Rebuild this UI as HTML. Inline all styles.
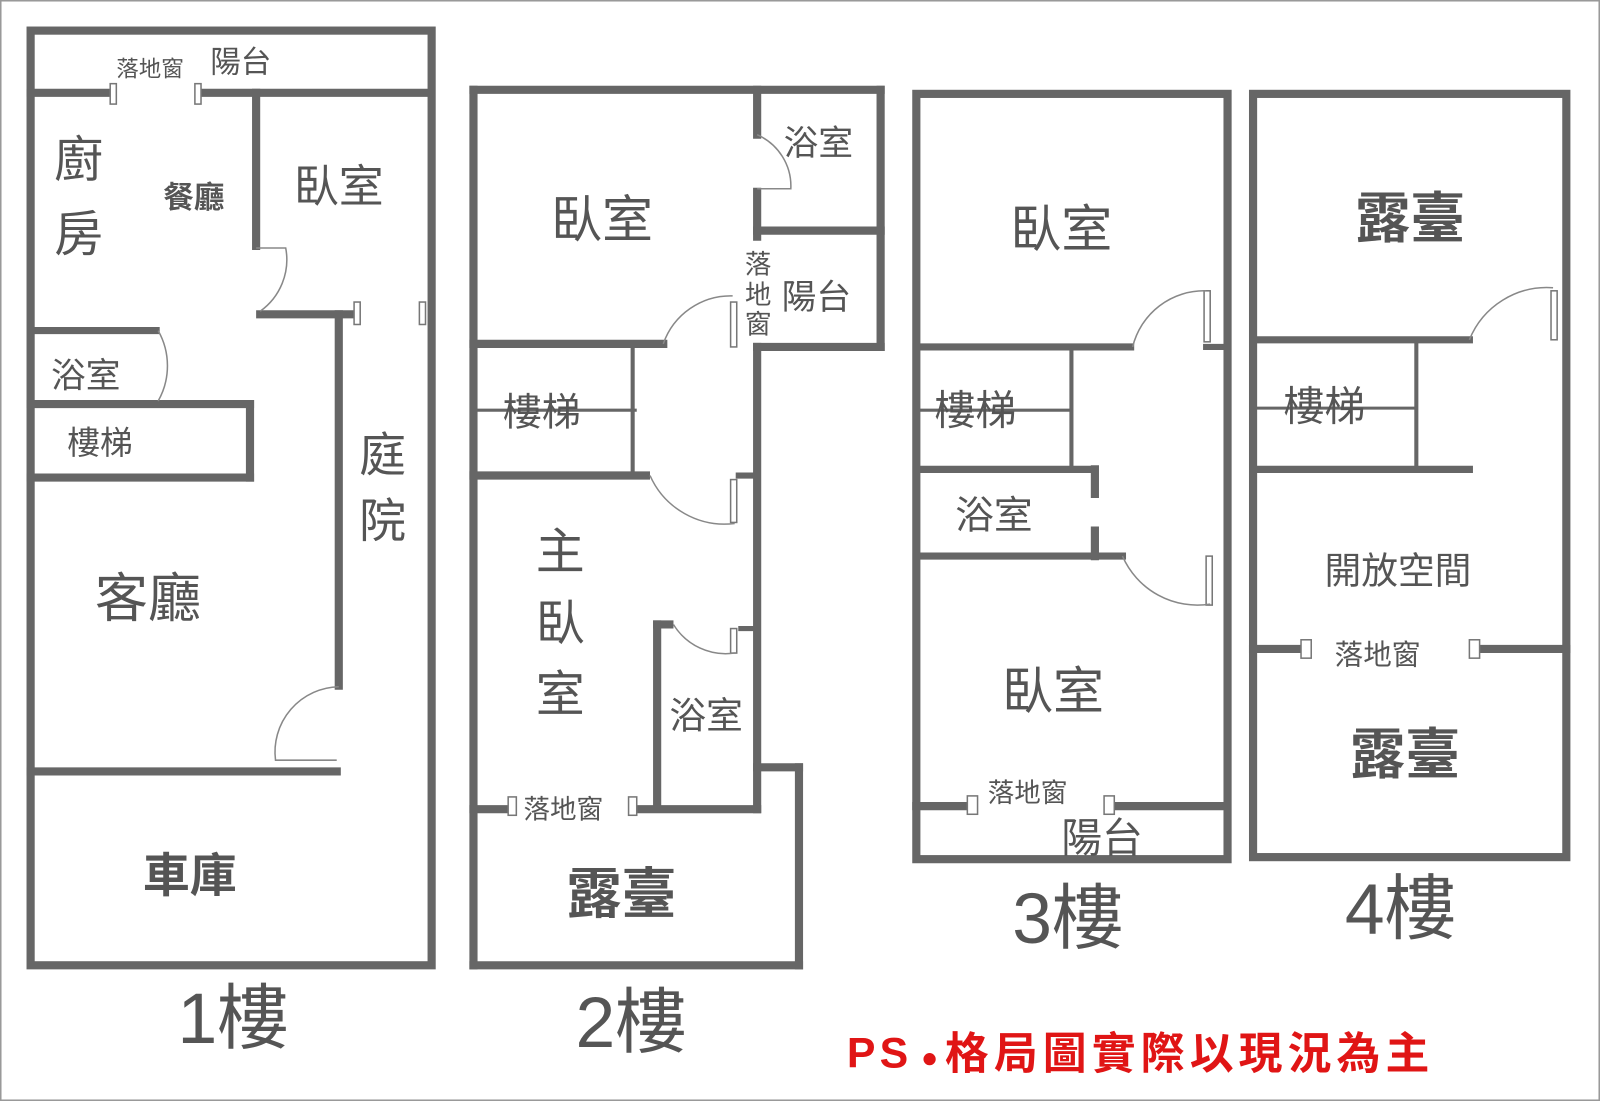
<!DOCTYPE html>
<html><head><meta charset="utf-8"><style>
html,body{margin:0;padding:0;background:#fff;}
svg{display:block;}
text{font-family:"Liberation Sans","Noto Sans CJK TC",sans-serif;fill:#555;}
</style></head><body>
<svg width="1600" height="1101" viewBox="0 0 1568 1079" preserveAspectRatio="none" xmlns="http://www.w3.org/2000/svg">
<rect x="0" y="0" width="1568" height="1079" fill="#fff" stroke="#999" stroke-width="3"/>
<g stroke="#666" stroke-width="8" fill="none" stroke-linecap="square">
<!-- Floor 1 -->
<rect x="30" y="30" width="393" height="916"/>
<line x1="30" y1="91" x2="108" y2="91"/><line x1="198" y1="91" x2="420" y2="91"/>
<line x1="251" y1="91" x2="251" y2="241"/>
<line x1="255" y1="308" x2="345" y2="308"/>
<line x1="332" y1="308" x2="332" y2="672"/>
<line x1="30" y1="324" x2="153" y2="324" stroke-width="7"/>
<line x1="30" y1="396" x2="245" y2="396"/>
<line x1="245" y1="396" x2="245" y2="468"/>
<line x1="30" y1="468" x2="245" y2="468"/>
<line x1="30" y1="756" x2="330" y2="756"/>
<!-- Floor 2 -->
<line x1="464" y1="88" x2="863" y2="88"/>
<line x1="464" y1="88" x2="464" y2="946"/>
<line x1="863" y1="88" x2="863" y2="340"/>
<line x1="742" y1="340" x2="863" y2="340"/>
<line x1="742" y1="88" x2="742" y2="132"/>
<line x1="742" y1="188" x2="742" y2="232"/>
<line x1="742" y1="340" x2="742" y2="793"/>
<line x1="742" y1="226" x2="863" y2="226"/>
<line x1="464" y1="337" x2="650" y2="337"/>
<line x1="464" y1="466" x2="633" y2="466"/>
<line x1="724" y1="466" x2="738" y2="466" stroke-width="6"/>
<line x1="644" y1="612" x2="656" y2="612"/>
<line x1="644" y1="612" x2="644" y2="790"/>
<line x1="726" y1="616" x2="738" y2="616" stroke-width="5"/>
<line x1="464" y1="793" x2="498" y2="793"/>
<line x1="624" y1="793" x2="742" y2="793"/>
<line x1="742" y1="752" x2="783" y2="752"/>
<line x1="783" y1="752" x2="783" y2="946"/>
<line x1="464" y1="946" x2="783" y2="946"/>
<!-- Floor 3 -->
<rect x="898" y="92" width="305" height="750"/>
<line x1="898" y1="340" x2="1108" y2="340" stroke-width="7"/>
<line x1="1182" y1="340" x2="1198" y2="340" stroke-width="6"/>
<line x1="898" y1="460" x2="1073" y2="460" stroke-width="7"/>
<line x1="1073" y1="460" x2="1073" y2="484"/>
<line x1="1073" y1="520" x2="1073" y2="545"/>
<line x1="898" y1="545" x2="1100" y2="545" stroke-width="7"/>
<line x1="898" y1="790" x2="948" y2="790"/>
<line x1="1092" y1="790" x2="1200" y2="790"/>
<!-- Floor 4 -->
<rect x="1228" y="92" width="307" height="748"/>
<line x1="1228" y1="333" x2="1440" y2="333" stroke-width="7"/>
<line x1="1228" y1="460" x2="1440" y2="460" stroke-width="7"/>
<line x1="1228" y1="636" x2="1275" y2="636"/>
<line x1="1452" y1="636" x2="1535" y2="636"/>
</g>
<g stroke="#666" stroke-width="4" fill="none">
<line x1="620" y1="337" x2="620" y2="466"/>
<line x1="464" y1="402" x2="624" y2="402" stroke-width="3"/>
<line x1="1050" y1="340" x2="1050" y2="460"/>
<line x1="898" y1="402" x2="1050" y2="402" stroke-width="3"/>
<line x1="1388" y1="333" x2="1388" y2="460"/>
<line x1="1228" y1="400" x2="1388" y2="400" stroke-width="3"/>
</g>
<g stroke="#777" stroke-width="1.5" fill="#fff">
<rect x="108" y="82" width="6" height="20"/><rect x="191" y="82" width="6" height="20"/>
<rect x="347" y="296" width="6" height="22"/><rect x="411" y="296" width="6" height="22"/>
<rect x="498" y="781" width="8" height="18"/><rect x="616" y="781" width="8" height="18"/>
<rect x="948" y="780" width="10" height="18"/><rect x="1082" y="780" width="10" height="18"/>
<rect x="1275" y="627" width="10" height="18"/><rect x="1440" y="627" width="10" height="18"/>
<rect x="716" y="296" width="6" height="44"/>
<rect x="1180" y="285" width="6" height="50"/>
<rect x="1520" y="285" width="6" height="48"/>
<rect x="716" y="470" width="6" height="42"/>
<rect x="716" y="616" width="6" height="24"/>
<rect x="1182" y="545" width="6" height="48"/>
</g>
<g stroke="#888" stroke-width="1.5" fill="none">
<path d="M251,243 L280,243 A62,62 0 0 1 255,305"/>
<path d="M155,324 A70,70 0 0 1 155,393"/>
<path d="M332,673 A64,64 0 0 0 270,745 L330,745"/>
<path d="M742,132 A55,55 0 0 1 775,185 L742,185"/>
<path d="M650,337 A70,70 0 0 1 718,290"/>
<path d="M637,466 A80,80 0 0 0 720,513"/>
<path d="M660,612 A60,60 0 0 0 720,640"/>
<path d="M1110,340 A72,72 0 0 1 1182,285"/>
<path d="M1440,333 A82,82 0 0 1 1522,282"/>
<path d="M1100,545 A80,80 0 0 0 1186,592"/>
</g>
<g>
<text x="114" y="75" font-size="22">落地窗</text>
<text x="206" y="71" font-size="30">陽台</text>
<text x="53" y="173" font-size="48">廚</text>
<text x="53" y="246" font-size="48">房</text>
<text x="160" y="204" font-size="30" font-weight="bold">餐廳</text>
<text x="288" y="198" font-size="44">臥室</text>
<text x="50" y="380" font-size="34">浴室</text>
<text x="66" y="445" font-size="32">樓梯</text>
<text x="352" y="462" font-size="46">庭</text>
<text x="352" y="527" font-size="46">院</text>
<text x="93" y="604" font-size="52">客廳</text>
<text x="140" y="874" font-size="46" font-weight="bold">車庫</text>
<text x="174" y="1022" font-size="70" fill="#666">1樓</text>

<text x="540" y="233" font-size="50">臥室</text>
<text x="768" y="152" font-size="34">浴室</text>
<text x="730" y="268" font-size="26">落</text>
<text x="730" y="298" font-size="26">地</text>
<text x="730" y="327" font-size="26">窗</text>
<text x="766" y="303" font-size="34">陽台</text>
<text x="493" y="417" font-size="38">樓梯</text>
<text x="525" y="557" font-size="48">主</text>
<text x="525" y="627" font-size="48">臥</text>
<text x="525" y="697" font-size="48">室</text>
<text x="656" y="714" font-size="36">浴室</text>
<text x="513" y="802" font-size="26">落地窗</text>
<text x="555" y="895" font-size="54" font-weight="bold">露臺</text>
<text x="564" y="1026" font-size="70" fill="#666">2樓</text>

<text x="990" y="242" font-size="50">臥室</text>
<text x="916" y="416" font-size="40">樓梯</text>
<text x="936" y="518" font-size="38">浴室</text>
<text x="982" y="695" font-size="50">臥室</text>
<text x="968" y="786" font-size="26">落地窗</text>
<text x="1040" y="835" font-size="40" fill="#999">陽台</text>
<text x="992" y="924" font-size="70" fill="#666">3樓</text>

<text x="1328" y="233" font-size="54" font-weight="bold">露臺</text>
<text x="1258" y="412" font-size="40">樓梯</text>
<text x="1298" y="572" font-size="36">開放空間</text>
<text x="1308" y="651" font-size="28">落地窗</text>
<text x="1323" y="758" font-size="54" font-weight="bold">露臺</text>
<text x="1318" y="915" font-size="70" fill="#666">4樓</text>

<text x="830" y="1046" font-size="42" font-weight="bold" letter-spacing="4" style="fill:#e01515">PS</text>
<circle cx="911" cy="1038" r="6" fill="#e01515"/>
<text x="926" y="1047" font-size="43" font-weight="bold" letter-spacing="5" style="fill:#e01515">格局圖實際以現況為主</text>
</g>
</svg>
</body></html>
